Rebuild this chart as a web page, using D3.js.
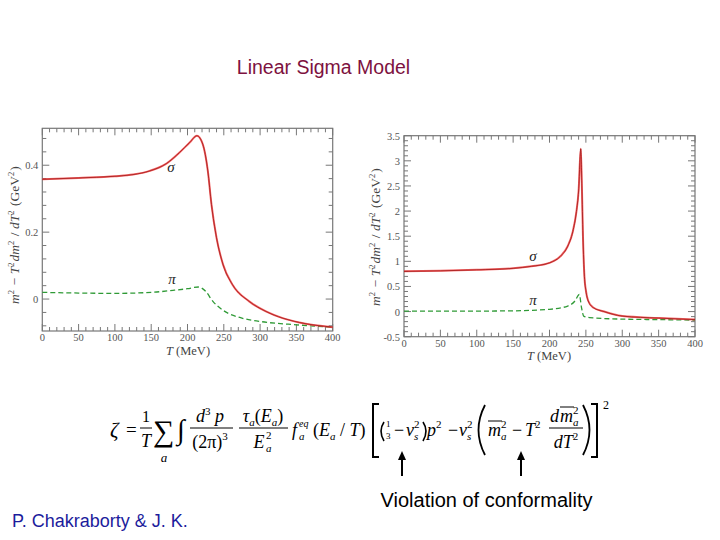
<!DOCTYPE html>
<html><head><meta charset="utf-8">
<script src="https://cdn.jsdelivr.net/npm/d3@7"></script>
<style>body{margin:0;background:#fff}svg{display:block}</style>
</head><body>
<script>
// ---------- data ----------
const leftSigmaT = [0, 50, 100, 125, 148, 171, 189, 203, 213, 221, 228, 233, 240, 249, 262, 285, 308, 331, 354, 400];
const leftSigma  = [0.358, 0.362, 0.367, 0.372, 0.383, 0.405, 0.438, 0.468, 0.488, 0.463, 0.383, 0.283, 0.183, 0.103, 0.043, -0.007, -0.037, -0.057, -0.070, -0.084];
const leftPiT = [0, 50, 100, 150, 180, 200, 215, 225, 235, 250, 275, 300, 350, 400];
const leftPi  = [0.020, 0.018, 0.017, 0.020, 0.026, 0.031, 0.036, 0.023, -0.007, -0.035, -0.057, -0.067, -0.077, -0.084];

const rightSigmaT = [0, 50, 100, 150, 175, 200, 215, 225, 232, 237, 240, 243, 244.5, 246, 248, 250, 253, 260, 275, 300, 350, 400];
const rightSigma  = [0.80, 0.81, 0.83, 0.86, 0.90, 0.97, 1.10, 1.30, 1.59, 1.99, 2.40, 3.24, 2.50, 1.50, 0.70, 0.42, 0.22, 0.08, 0.0, -0.09, -0.13, -0.16];
const rightPiT = [0, 100, 150, 200, 225, 235, 241, 244, 247, 255, 300, 350, 400];
const rightPi  = [0.01, 0.01, 0.015, 0.045, 0.11, 0.21, 0.34, 0.08, -0.09, -0.12, -0.15, -0.16, -0.17];

const xTickLabels = ["0","50","100","150","200","250","300","350","400"];
const leftYTickLabels = ["0","0.2","0.4"];
const rightYTickLabels = ["-0.5","0","0.5","1","1.5","2","2.5","3","3.5"];

const titleText = "Linear Sigma Model";
const noteText = "Violation of conformality";
const authorText = "P. Chakraborty & J. K.";

// ---------- drawing ----------
const W = 720, H = 540;
const svg = d3.select("body").append("svg").attr("width", W).attr("height", H);
const serif = "'Liberation Serif','Times New Roman',serif";
const sans = "'Liberation Sans',Arial,sans-serif";

svg.append("text").attr("x", 323.5).attr("y", 74).attr("text-anchor", "middle")
  .attr("font-family", sans).attr("font-size", 19.5).attr("fill", "#7d1240").text(titleText);

function panel(cfg) {
  const g = svg.append("g");
  const x = d3.scaleLinear().domain([0, 400]).range([cfg.x0, cfg.x1]);
  const y = d3.scaleLinear().domain(cfg.yDom).range([cfg.y1, cfg.y0]);
  const frameCol = "#777";
  g.append("rect").attr("x", cfg.x0).attr("y", cfg.y0).attr("width", cfg.x1 - cfg.x0).attr("height", cfg.y1 - cfg.y0)
    .attr("fill", "none").attr("stroke", frameCol).attr("stroke-width", 1.2);
  // x ticks
  const xMinor = d3.range(0, 401, 10);
  xMinor.forEach(v => {
    const major = v % 50 === 0;
    const L = major ? 7 : 4;
    g.append("line").attr("x1", x(v)).attr("x2", x(v)).attr("y1", cfg.y1).attr("y2", cfg.y1 - L).attr("stroke", frameCol);
    g.append("line").attr("x1", x(v)).attr("x2", x(v)).attr("y1", cfg.y0).attr("y2", cfg.y0 + L).attr("stroke", frameCol);
  });
  xTickLabels.forEach(s => {
    g.append("text").attr("x", x(+s)).attr("y", cfg.y1 + cfg.xLabDy).attr("text-anchor", "middle")
      .attr("font-family", serif).attr("font-size", 10.5).attr("fill", "#555").text(s);
  });
  // y ticks
  const yMinor = d3.range(Math.ceil(cfg.yDom[0] / cfg.yMinorStep - 1e-6), Math.floor(cfg.yDom[1] / cfg.yMinorStep + 1e-6) + 1)
    .map(k => +(k * cfg.yMinorStep).toFixed(4));
  yMinor.forEach(v => {
    const major = Math.abs(v / cfg.yMajorStep - Math.round(v / cfg.yMajorStep)) < 1e-6;
    const L = major ? 7 : 4;
    g.append("line").attr("x1", cfg.x0).attr("x2", cfg.x0 + L).attr("y1", y(v)).attr("y2", y(v)).attr("stroke", frameCol);
    g.append("line").attr("x1", cfg.x1).attr("x2", cfg.x1 - L).attr("y1", y(v)).attr("y2", y(v)).attr("stroke", frameCol);
  });
  cfg.yLabels.forEach(s => {
    g.append("text").attr("x", cfg.x0 - 4).attr("y", y(+s) + 4).attr("text-anchor", "end")
      .attr("font-family", serif).attr("font-size", 10.5).attr("fill", "#555").text(s);
  });
  // x title
  const xt = g.append("text").attr("x", cfg.xTitle[0]).attr("y", cfg.xTitle[1]).attr("text-anchor", "middle")
    .attr("font-family", serif).attr("font-size", 12.5).attr("fill", "#444");
  xt.append("tspan").attr("font-style", "italic").text("T");
  xt.append("tspan").text(" (MeV)");
  // y title
  const yt = g.append("text").attr("transform", `translate(${cfg.yTitle[0]},${cfg.yTitle[1]}) rotate(-90)`)
    .attr("text-anchor", "middle").attr("font-family", serif).attr("font-size", 13.5).attr("fill", "#444");
  const it = (t) => yt.append("tspan").attr("font-style", "italic").text(t);
  const sup = (t) => { yt.append("tspan").attr("font-size", 8.5).attr("dy", -5).text(t); yt.append("tspan").attr("dy", 5).text("\u200A"); };
  it("m"); sup("2"); yt.append("tspan").text(" \u2212 "); it("T"); sup("2"); it("dm"); sup("2");
  yt.append("tspan").text(" / "); it("dT"); sup("2"); yt.append("tspan").text(" (GeV"); sup("2"); yt.append("tspan").text(")");
  // lines
  const line = d3.line().x(d => x(d[0])).y(d => y(d[1])).curve(d3.curveMonotoneX);
  const sig = d3.zip(cfg.sT, cfg.sV), pi = d3.zip(cfg.pT, cfg.pV);
  g.append("path").attr("d", line(pi)).attr("fill", "none").attr("stroke", "#2f9a36").attr("stroke-width", 1.3).attr("stroke-dasharray", "5,3");
  g.append("path").attr("d", line(sig)).attr("fill", "none").attr("stroke", "#f04040").attr("stroke-width", 2).attr("opacity", 0.8);
  g.append("path").attr("d", line(sig)).attr("fill", "none").attr("stroke", "#a01818").attr("stroke-width", 0.8);
  // greek labels
  g.append("text").attr("x", cfg.sigLab[0]).attr("y", cfg.sigLab[1]).attr("text-anchor", "middle")
    .attr("font-family", serif).attr("font-style", "italic").attr("font-size", 15).attr("fill", "#222").text("\u03c3");
  g.append("text").attr("x", cfg.piLab[0]).attr("y", cfg.piLab[1]).attr("text-anchor", "middle")
    .attr("font-family", serif).attr("font-style", "italic").attr("font-size", 15).attr("fill", "#222").text("\u03c0");
}

panel({x0: 42.3, x1: 332.7, y0: 128.3, y1: 331, yDom: [-0.0955, 0.5104], yMinorStep: 0.04, yMajorStep: 0.2,
  yLabels: leftYTickLabels, xLabDy: 10, xTitle: [188, 355], yTitle: [19, 235], sigLab: [171, 172], piLab: [172, 284],
  sT: leftSigmaT, sV: leftSigma, pT: leftPiT, pV: leftPi});
panel({x0: 404, x1: 695, y0: 135.7, y1: 336.7, yDom: [-0.5, 3.5], yMinorStep: 0.1, yMajorStep: 0.5,
  yLabels: rightYTickLabels, xLabDy: 10, xTitle: [549, 360], yTitle: [380, 237], sigLab: [533, 261], piLab: [533, 305],
  sT: rightSigmaT, sV: rightSigma, pT: rightPiT, pV: rightPi});

// ---------- formula ----------
const F = svg.append("g").attr("font-family", serif).attr("fill", "#000");
function t(xp, yp, s, o = {}) {
  const e = F.append("text").attr("x", xp).attr("y", yp).attr("font-size", o.fs || 19)
    .attr("text-anchor", o.anchor || "start");
  if (o.italic) e.attr("font-style", "italic");
  e.text(s);
  return e;
}
function bar(xa, xb, yy) { F.append("line").attr("x1", xa).attr("x2", xb).attr("y1", yy).attr("y2", yy).attr("stroke", "#000").attr("stroke-width", 1); }
const barY = 428, numY = 422, denY = 446, baseY = 436;
t(110, baseY + 1, "\u03b6", {italic: true, fs: 21});
t(126, baseY, "=", {fs: 19});
t(146, numY, "1", {anchor: "middle", fs: 16}); bar(140, 152, barY); t(146, denY + 1, "T", {italic: true, anchor: "middle", fs: 18});
t(153, baseY + 5, "\u2211", {fs: 30});
t(164, 462, "a", {italic: true, fs: 13, anchor: "middle"});
t(177, baseY + 3, "\u222b", {fs: 28});
// d^3p / (2pi)^3
const e1 = t(210, numY, "", {anchor: "middle", fs: 18}); e1.append("tspan").attr("font-style", "italic").text("d");
e1.append("tspan").attr("font-size", 11).attr("dy", -7).text("3"); e1.append("tspan").attr("dy", 7).attr("font-style", "italic").text(" p");
bar(190, 233, barY);
const e2 = t(210, denY + 2, "", {anchor: "middle", fs: 18}); e2.append("tspan").text("(2\u03c0)"); e2.append("tspan").attr("font-size", 11).attr("dy", -8).text("3");
// tau_a(E_a)/E_a^2
const e3 = t(263, numY, "", {anchor: "middle", fs: 18}); e3.append("tspan").attr("font-style", "italic").text("\u03c4");
e3.append("tspan").attr("font-size", 11).attr("dy", 4).attr("font-style", "italic").text("a"); e3.append("tspan").attr("dy", -4).text("(");
e3.append("tspan").attr("font-style", "italic").text("E"); e3.append("tspan").attr("font-size", 11).attr("dy", 4).attr("font-style", "italic").text("a");
e3.append("tspan").attr("dy", -4).text(")");
bar(239, 288, barY);
t(259, denY + 2, "E", {italic: true, anchor: "middle", fs: 18});
t(266, denY - 7, "2", {fs: 11});
t(266, denY + 6, "a", {italic: true, fs: 11});
// f_a^eq(E_a/T)
t(292, baseY, "f", {italic: true, fs: 18});
t(299, baseY - 9, "eq", {italic: true, fs: 10});
t(299, baseY + 4, "a", {italic: true, fs: 11});
const e5 = t(313, baseY, "", {fs: 18}); e5.append("tspan").text("(");
e5.append("tspan").attr("font-style", "italic").text("E"); e5.append("tspan").attr("font-size", 11).attr("dy", 4).attr("font-style", "italic").text("a");
e5.append("tspan").attr("dy", -4).text(" / "); e5.append("tspan").attr("font-style", "italic").text("T"); e5.append("tspan").text(")");
// big square brackets
F.append("path").attr("d", "M379,404 H373 V457 H379").attr("fill", "none").attr("stroke", "#000").attr("stroke-width", 2);
F.append("path").attr("d", "M591,404 H597 V457 H591").attr("fill", "none").attr("stroke", "#000").attr("stroke-width", 2);
t(603, 409, "2", {fs: 12});
// (1/3 - v_s^2) p^2
F.append("path").attr("d", "M384,422 Q378,431 384,441").attr("fill", "none").attr("stroke", "#000").attr("stroke-width", 1.6);
t(386, 427, "1", {fs: 9}); t(386, 439, "3", {fs: 9});
t(394, baseY, "\u2212", {fs: 18});
t(406, baseY, "v", {italic: true, fs: 18});
t(414, baseY - 8, "2", {fs: 11});
t(414, baseY + 4, "s", {italic: true, fs: 11});
F.append("path").attr("d", "M423,422 Q429,431 423,441").attr("fill", "none").attr("stroke", "#000").attr("stroke-width", 1.6);
const e7 = t(427, baseY, "", {fs: 18}); e7.append("tspan").attr("font-style", "italic").text("p");
e7.append("tspan").attr("font-size", 11).attr("dy", -8).text("2");
t(448, baseY, "\u2212", {fs: 18});
t(459, baseY, "v", {italic: true, fs: 18});
t(467, baseY - 8, "2", {fs: 11});
t(467, baseY + 4, "s", {italic: true, fs: 11});
// big parentheses
F.append("path").attr("d", "M485,405 Q472,430 485,455").attr("fill", "none").attr("stroke", "#000").attr("stroke-width", 1.8);
F.append("path").attr("d", "M583,405 Q596,430 583,455").attr("fill", "none").attr("stroke", "#000").attr("stroke-width", 1.8);
t(488, baseY, "m", {italic: true, fs: 18});
t(501, baseY - 8, "2", {fs: 11});
t(501, baseY + 4, "a", {italic: true, fs: 11});
bar(488, 502, 421);
t(512, baseY, "\u2212", {fs: 18});
const e10 = t(525, baseY, "", {fs: 18}); e10.append("tspan").attr("font-style", "italic").text("T");
e10.append("tspan").attr("font-size", 11).attr("dy", -8).text("2");
t(550, numY, "d", {italic: true, fs: 18});
t(560, numY, "m", {italic: true, fs: 18});
t(573, numY - 8, "2", {fs: 11});
t(573, numY + 4, "a", {italic: true, fs: 11});
bar(560, 574, 407);
bar(549, 583, barY);
const e12 = t(566, denY + 2, "", {anchor: "middle", fs: 18}); e12.append("tspan").attr("font-style", "italic").text("dT");
e12.append("tspan").attr("font-size", 11).attr("dy", -8).text("2");

// arrows
[402, 521].forEach(ax => {
  F.append("line").attr("x1", ax).attr("x2", ax).attr("y1", 476).attr("y2", 458).attr("stroke", "#000").attr("stroke-width", 2);
  F.append("path").attr("d", `M${ax - 4},460 L${ax},451 L${ax + 4},460 Z`).attr("fill", "#000");
});

svg.append("text").attr("x", 486.5).attr("y", 507).attr("text-anchor", "middle")
  .attr("font-family", sans).attr("font-size", 20).attr("fill", "#000").text(noteText);
svg.append("text").attr("x", 12).attr("y", 527)
  .attr("font-family", sans).attr("font-size", 18).attr("fill", "#1c1c9c").text(authorText);
</script>
</body></html>
